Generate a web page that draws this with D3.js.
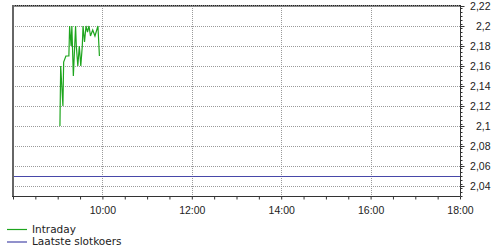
<!DOCTYPE html>
<html>
<head>
<meta charset="utf-8">
<script src="https://cdn.jsdelivr.net/npm/d3@7"></script>
<style>
    body { margin: 0; background: #fff; }
    svg { display: block; font-family: "DejaVu Sans", Verdana, sans-serif; }
</style>
</head>
<body>
<svg id="chart" width="500" height="250"></svg>
<script>
// intraday ticks (time, price)
const intradayTimes = ['09:03', '09:04', '09:07', '09:08', '09:11', '09:15', '09:16', '09:18', '09:19',
    '09:21', '09:24', '09:25', '09:27', '09:29', '09:31', '09:33', '09:34', '09:36', '09:38',
    '09:40', '09:42', '09:44', '09:47', '09:50', '09:54', '09:56'];
const intradayValues = [2.10, 2.16, 2.12, 2.164, 2.17, 2.17, 2.20, 2.18, 2.20,
    2.15, 2.20, 2.18, 2.16, 2.18, 2.16, 2.18, 2.20, 2.184, 2.20,
    2.194, 2.20, 2.19, 2.196, 2.19, 2.20, 2.17];
const lastClose = 2.05;

const xLabels = ['10:00', '12:00', '14:00', '16:00', '18:00'];
const yLabels = [2.04, 2.06, 2.08, 2.10, 2.12, 2.14, 2.16, 2.18, 2.20, 2.22];

const legendItems = [
    { name: 'Intraday', color: '#1ea51e' },
    { name: 'Laatste slotkoers', color: '#4848a8' }
];

// =========================================================================
// Scales
// =========================================================================

const parseTime = d3.timeParse('%H:%M');
const fmtTime = d3.timeFormat('%H:%M');

const margin = { left: 13, right: 40, top: 6, bottom: 54 };
const width = 500, height = 250;

const x = d3.scaleTime()
    .domain([parseTime('08:00'), parseTime('18:00')])
    .range([margin.left, width - margin.right]);

const y = d3.scaleLinear()
    .domain([2.03, 2.22])
    .range([height - margin.bottom, margin.top]);

const svg = d3.select('#chart');

const intraday = intradayTimes.map((t, i) => ({ t: parseTime(t), v: intradayValues[i] }));

// =========================================================================
// Grid
// =========================================================================

const grid = svg.append('g').attr('stroke', '#9a9a9a').attr('stroke-dasharray', '1,1');

grid.selectAll('line.h')
    .data(yLabels)
    .join('line')
    .attr('x1', x.range()[0]).attr('x2', x.range()[1])
    .attr('y1', d => Math.round(y(d)) + 0.5).attr('y2', d => Math.round(y(d)) + 0.5);

grid.selectAll('line.v')
    .data(xLabels.slice(0, -1))
    .join('line')
    .attr('x1', d => Math.round(x(parseTime(d))) + 0.5).attr('x2', d => Math.round(x(parseTime(d))) + 0.5)
    .attr('y1', y.range()[1]).attr('y2', y.range()[0]);

// =========================================================================
// Series
// =========================================================================

svg.append('line')
    .attr('x1', x.range()[0]).attr('x2', x.range()[1])
    .attr('y1', Math.round(y(lastClose)) + 0.5).attr('y2', Math.round(y(lastClose)) + 0.5)
    .attr('stroke', legendItems[1].color)
    .attr('stroke-width', 1.2);

svg.append('path')
    .datum(intraday)
    .attr('fill', 'none')
    .attr('stroke', legendItems[0].color)
    .attr('stroke-width', 1.2)
    .attr('d', d3.line().x(d => x(d.t)).y(d => y(d.v)));

// =========================================================================
// Frame and axes
// =========================================================================

const x0 = x.range()[0], x1 = x.range()[1];
const yTop = y.range()[1], yBot = y.range()[0];

// top border: grey with dark dots
svg.append('line').attr('x1', x0).attr('x2', x1).attr('y1', yTop).attr('y2', yTop)
    .attr('stroke', '#888').attr('stroke-width', 2);
svg.append('line').attr('x1', x0).attr('x2', x1).attr('y1', yTop - 0.5).attr('y2', yTop - 0.5)
    .attr('stroke', '#222').attr('stroke-dasharray', '1,1');

// left border
svg.append('line').attr('x1', x0).attr('x2', x0).attr('y1', yTop - 1).attr('y2', yBot)
    .attr('stroke', '#666').attr('stroke-width', 2);

// bottom axis
const halfHours = d3.timeMinute.every(30).range(x.domain()[0], d3.timeMinute.offset(x.domain()[1], 1));
const xAxis = d3.axisBottom(x)
    .tickValues(halfHours)
    .tickSize(3)
    .tickFormat(d => xLabels.includes(fmtTime(d)) ? fmtTime(d) : '');

const gx = svg.append('g')
    .attr('transform', `translate(0,${yBot + 0.5})`)
    .call(xAxis);
gx.select('.domain').remove();
gx.selectAll('line').attr('stroke', '#333');
gx.selectAll('text').attr('fill', '#222').attr('font-size', 10.5).attr('dy', '1.05em');
svg.append('line').attr('x1', x0 - 1).attr('x2', x1).attr('y1', yBot + 0.5).attr('y2', yBot + 0.5)
    .attr('stroke', '#333');

// right axis
const minorY = d3.range(0, 48).map(i => +(2.03 + i * 0.004).toFixed(3)).filter(v => v <= 2.2205);
const yAxis = d3.axisRight(y)
    .tickValues(minorY)
    .tickSize(2)
    .tickFormat('');
const gy = svg.append('g')
    .attr('transform', `translate(${x1 + 0.5},0)`)
    .call(yAxis);
gy.select('.domain').remove();
gy.selectAll('line').attr('stroke', '#333');

const gyMajor = svg.append('g')
    .attr('transform', `translate(${x1 + 0.5},0)`)
    .call(d3.axisRight(y)
        .tickValues(yLabels)
        .tickSize(4)
        .tickFormat(d => d3.format('.2~f')(d).replace('.', ',')));
gyMajor.select('.domain').remove();
gyMajor.selectAll('line').attr('stroke', '#333');
gyMajor.selectAll('text')
    .attr('fill', '#222')
    .attr('font-size', 10.5)
    .attr('text-anchor', 'end')
    .attr('x', 30);

svg.append('line').attr('x1', x1 + 0.5).attr('x2', x1 + 0.5).attr('y1', yTop - 1).attr('y2', yBot + 0.5)
    .attr('stroke', '#333');

// =========================================================================
// Legend
// =========================================================================

const legend = svg.append('g').attr('transform', 'translate(7,229)');
const item = legend.selectAll('g')
    .data(legendItems)
    .join('g')
    .attr('transform', (d, i) => `translate(0,${i * 12.5})`);
item.append('line')
    .attr('x1', 0).attr('x2', 20).attr('y1', 0.5).attr('y2', 0.5)
    .attr('stroke', d => d.color)
    .attr('stroke-width', 1.2);
item.append('text')
    .attr('x', 25)
    .attr('y', 0)
    .attr('dy', '0.35em')
    .attr('font-size', 10.5)
    .attr('fill', '#222')
    .text(d => d.name);
</script>
</body>
</html>
